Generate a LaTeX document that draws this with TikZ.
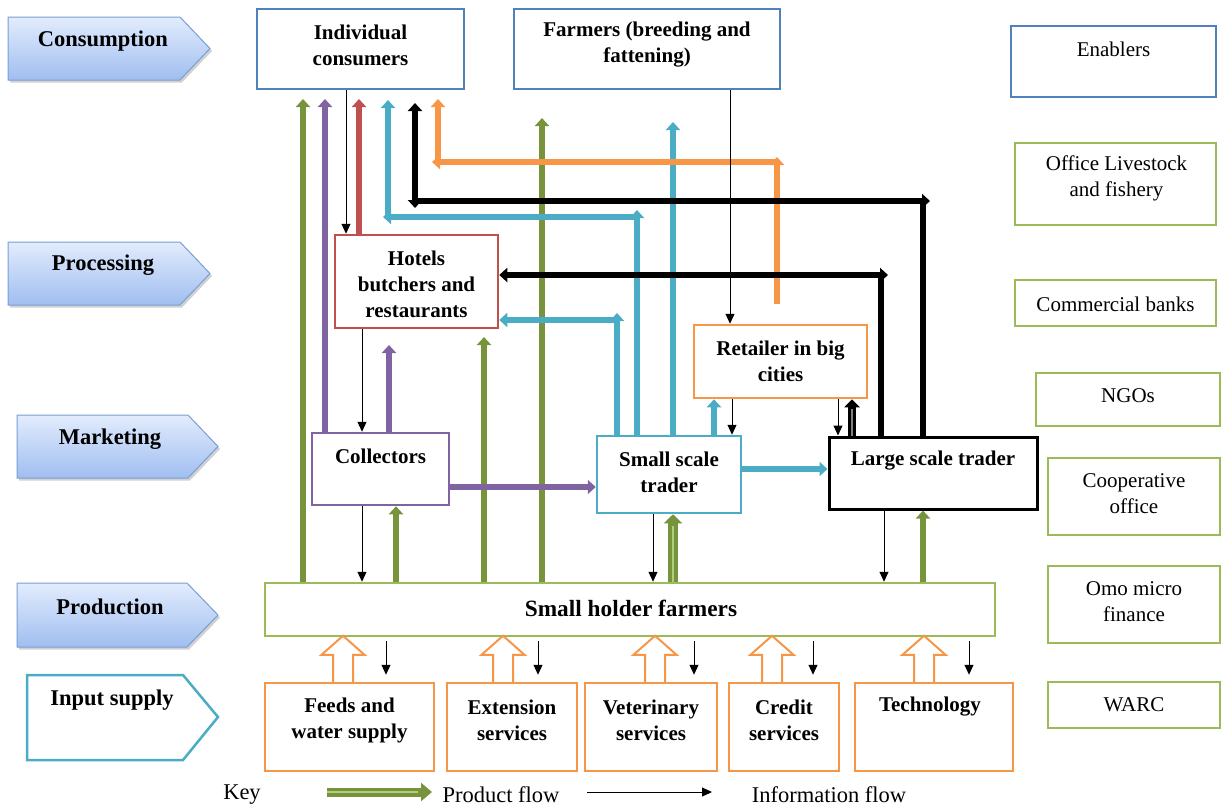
\documentclass[tikz,border=0pt]{standalone}
\usepackage{fontspec}
\setmainfont{Liberation Serif}
\usetikzlibrary{arrows.meta,calc}
\definecolor{cblue}{RGB}{79,129,189}
\definecolor{cgreen}{RGB}{155,187,89}
\definecolor{pgreen}{RGB}{119,147,60}
\definecolor{lgreen}{RGB}{178,204,128}
\definecolor{cpurple}{RGB}{128,100,162}
\definecolor{cred}{RGB}{192,80,77}
\definecolor{cteal}{RGB}{75,172,198}
\definecolor{corange}{RGB}{247,150,70}
\definecolor{stagetop}{RGB}{226,236,253}
\definecolor{stagebot}{RGB}{160,190,240}
\definecolor{stageline}{RGB}{120,158,212}
\begin{document}
\begin{tikzpicture}[x=1pt,y=-1pt,
  box/.style={draw=#1, line width=2.5pt, fill=white, inner sep=0pt},
  bt/.style={font=\fontsize{21}{26}\selectfont\bfseries, align=center, inner sep=0pt},
  rt/.style={font=\fontsize{21}{26}\selectfont, align=center, inner sep=0pt},
  st/.style={font=\fontsize{22.5}{27}\selectfont\bfseries, inner sep=0pt},
  kt/.style={font=\fontsize{22.5}{27}\selectfont, inner sep=0pt},
  stage/.style={draw=stageline, line width=1pt, top color=stagetop, bottom color=stagebot},
  stageshadow/.style={fill=black, opacity=0.18, draw=none},
  flow/.style={draw=#1, line width=6pt, -{Triangle[width=14pt,length=8pt]}},
  kseg/.style={draw=black, line width=6pt},
  kboth/.style={draw=black, line width=6pt, {Triangle[width=14pt,length=8pt]}-{Triangle[width=14pt,length=8pt]}},
  kend/.style={draw=black, line width=6pt, -{Triangle[width=14pt,length=8pt]}},
  infoarrow/.style={draw=black, line width=1pt, -{Triangle[width=9pt,length=10pt]}},
  blockup/.pic={\draw[draw=corange, line width=2pt, fill=white, line join=miter]
      (-10,0) -- (-10,-27) -- (-21.5,-27) -- (0,-46) -- (21.5,-27) -- (10,-27) -- (10,0);},
]
\useasboundingbox (0,0) rectangle (1222,807);

% ---------- stage arrows ----------
\path[stageshadow] (10,19.5) -- (182,19.5) -- (212,51) -- (182,82.5) -- (10,82.5) -- cycle;
\path[stage] (8,17) -- (180,17) -- (210,48.5) -- (180,80) -- (8,80) -- cycle;
\node[st] (sCons) at (103,41) {Consumption};
\path[stageshadow] (10,244.5) -- (182,244.5) -- (212,276) -- (182,307.5) -- (10,307.5) -- cycle;
\path[stage] (8,242) -- (180,242) -- (210,273.5) -- (180,305) -- (8,305) -- cycle;
\node[st] (sProc) at (103,265) {Processing};
\path[stageshadow] (19,417.5) -- (190,417.5) -- (220,449) -- (190,480.5) -- (19,480.5) -- cycle;
\path[stage] (17,415) -- (188,415) -- (218,446.5) -- (188,478) -- (17,478) -- cycle;
\node[st] (sMark) at (110,439) {Marketing};
\path[stageshadow] (19,585.5) -- (189,585.5) -- (220,617.5) -- (189,649.5) -- (19,649.5) -- cycle;
\path[stage] (17,583) -- (187,583) -- (218,615) -- (187,647) -- (17,647) -- cycle;
\node[st] (sProd) at (110,607) {Production};
\draw[draw=cteal, line width=2.5pt, fill=white] (27,675) -- (183,675) -- (218,717) -- (183,760) -- (27,760) -- cycle;
\node[st] (sInp) at (112,700) {Input supply};

% ---------- boxes ----------
\node[box=cblue, minimum width=207pt, minimum height=80pt] (ic) at (360.5,49) {};
\node[bt] at (360.5,45) {Individual\\consumers};
\node[box=cblue, minimum width=266pt, minimum height=80pt] (fm) at (647,49) {};
\node[bt] at (647,45) {Farmers (breeding and\\fattening)};
\node[box=cred, minimum width=163pt, minimum height=93pt] (hot) at (416.5,281.5) {};
\node[bt] at (416.5,284) {Hotels\\butchers and\\restaurants};
\node[box=cpurple, minimum width=137pt, minimum height=72pt] (col) at (380.5,469) {};
\node[bt] at (380.5,456) {Collectors};
\node[box=cteal, minimum width=144pt, minimum height=77pt] (sst) at (669,474.5) {};
\node[bt] at (669,472) {Small scale\\trader};
\node[box=corange, minimum width=173pt, minimum height=73pt] (ret) at (780.5,361.5) {};
\node[bt] at (780.5,361) {Retailer in big\\cities};
\node[box=black, line width=3pt, minimum width=208pt, minimum height=72pt] (lst) at (933,473) {};
\node[bt] at (933,461) {Large scale trader};
\node[box=cgreen, minimum width=730pt, minimum height=53pt] (shf) at (630,609.5) {};
\node[bt, font=\fontsize{23.3}{28}\selectfont\bfseries] at (631,608) {Small holder farmers};

\node[box=corange, minimum width=169pt, minimum height=88pt] (feed) at (349.5,727) {};
\node[bt] at (349.5,720) {Feeds and\\water supply};
\node[box=corange, minimum width=130pt, minimum height=88pt] (ext) at (512,727) {};
\node[bt] at (512,720) {Extension\\services};
\node[box=corange, minimum width=132pt, minimum height=88pt] (vet) at (651,727) {};
\node[bt] at (651,720) {Veterinary\\services};
\node[box=corange, minimum width=110pt, minimum height=88pt] (cred) at (784,727) {};
\node[bt] at (784,720) {Credit\\services};
\node[box=corange, minimum width=158pt, minimum height=88pt] (tech) at (934,727) {};
\node[bt] at (930,707) {Technology};

% ---------- enablers ----------
\node[box=cblue, minimum width=205pt, minimum height=71pt] (en) at (1113.5,61.5) {};
\node[rt] at (1113.5,49) {Enablers};
\node[box=cgreen, minimum width=201pt, minimum height=82pt] (olf) at (1115.5,184) {};
\node[rt] at (1116.5,178.5) {Office Livestock\\and fishery};
\node[box=cgreen, minimum width=201pt, minimum height=46pt] (cb) at (1115.5,303) {};
\node[rt] at (1115.5,304) {Commercial banks};
\node[box=cgreen, minimum width=184pt, minimum height=53pt] (ngo) at (1128,399.5) {};
\node[rt] at (1128,396) {NGOs};
\node[box=cgreen, minimum width=172pt, minimum height=77pt] (coop) at (1134,496.5) {};
\node[rt] at (1134,494) {Cooperative\\office};
\node[box=cgreen, minimum width=172pt, minimum height=77pt] (omo) at (1134,604.5) {};
\node[rt] at (1134,602) {Omo micro\\finance};
\node[box=cgreen, minimum width=172pt, minimum height=46pt] (warc) at (1134,705) {};
\node[rt] at (1134,705) {WARC};

% ---------- helper coordinates ----------
\coordinate (g1) at (303,99);
\coordinate (xg2) at (396,0);
\coordinate (g3) at (484,337);
\coordinate (g4) at (542,118);
\coordinate (xg5) at (673,0);
\coordinate (xg6) at (923,0);
\coordinate (p1) at (325,99);
\coordinate (p2) at (389,345);
\coordinate (yp3) at (0,487);
\coordinate (r1) at (359,99);
\coordinate (t1a) at (637,217);
\coordinate (t1b) at (388,217);
\coordinate (t1c) at (388,100);
\coordinate (t2a) at (617,320);
\coordinate (t3) at (673,122);
\coordinate (xt4) at (714,0);
\coordinate (yt5) at (0,469);
\coordinate (o1) at (777,162);
\coordinate (o2) at (438,162);
\coordinate (o3) at (438,99);
\coordinate (k1a) at (923,201);
\coordinate (k1b) at (415,201);
\coordinate (k1c) at (415,103);
\coordinate (k2a) at (881,275);
\coordinate (xk3) at (852,0);

% ---------- product flows: green ----------
\draw[flow=pgreen] (shf.north -| g1) -- (g1);
\draw[flow=pgreen] (shf.north -| xg2) -- (col.south -| xg2);
\draw[flow=pgreen] (shf.north -| g3) -- (g3);
\draw[flow=pgreen] (shf.north -| g4) -- (g4);
\draw[flow=pgreen, line width=10pt, -{Triangle[width=18pt,length=9pt]}] (shf.north -| xg5) -- (sst.south -| xg5);
\draw[lgreen, line width=2.5pt] (shf.north -| xg5) -- ($(sst.south -| xg5)+(0,12)$);
\draw[flow=pgreen] (shf.north -| xg6) -- (lst.south -| xg6);

% ---------- purple ----------
\draw[flow=cpurple] (col.north -| p1) -- (p1);
\draw[flow=cpurple] (col.north -| p2) -- (p2);
\draw[flow=cpurple] (col.east |- yp3) -- (sst.west |- yp3);

% ---------- red ----------
\draw[flow=cred] (hot.north -| r1) -- (r1);

% ---------- teal ----------
\draw[flow=cteal] (sst.north -| t1a) -- ($(t1a)+(0,-7)$);
\draw[flow=cteal] (t1a) -- ($(t1b)+(-5,0)$);
\draw[flow=cteal] (t1b) -- (t1c);
\draw[flow=cteal] (sst.north -| t2a) -- ($(t2a)+(0,-7)$);
\draw[flow=cteal] (t2a) -- (hot.east |- t2a);
\draw[flow=cteal] (sst.north -| t3) -- (t3);
\draw[flow=cteal] (sst.north -| xt4) -- (ret.south -| xt4);
\draw[flow=cteal] (sst.east |- yt5) -- (lst.west |- yt5);

% ---------- orange ----------
\draw[flow=corange] ($(ret.north -| o1)+(0,-20)$) -- ($(o1)+(0,-5)$);
\draw[flow=corange] (o1) -- ($(o2)+(-6,0)$);
\draw[flow=corange] (o2) -- (o3);

% ---------- black ----------
\draw[kseg] (lst.north -| k1a) -- (k1a);
\draw[kend] (k1b) -- ($(k1a)+(7,0)$);
\draw[kboth] ($(k1b)+(0,7)$) -- (k1c);
\draw[kseg] (lst.north -| k2a) -- (k2a);
\draw[kboth] ($(k2a)+(7,0)$) -- (hot.east |- k2a);
\draw[draw=black, line width=8pt, -{Triangle[width=15pt,length=8pt]}] (lst.north -| xk3) -- (ret.south -| xk3);
\draw[gray, line width=2pt] (lst.north -| xk3) -- ($(ret.south -| xk3)+(0,10)$);

% ---------- information flows ----------
\coordinate (xi1) at (346,0);
\coordinate (xi2) at (730,0);
\coordinate (xi3) at (362,0);
\coordinate (xi5) at (732,0);
\coordinate (xi6) at (838,0);
\coordinate (xi7) at (653,0);
\coordinate (xi8) at (884,0);
\draw[infoarrow] (ic.south -| xi1) -- (hot.north -| xi1);
\draw[infoarrow] (fm.south -| xi2) -- (ret.north -| xi2);
\draw[infoarrow] (hot.south -| xi3) -- (col.north -| xi3);
\draw[infoarrow] (col.south -| xi3) -- (shf.north -| xi3);
\draw[infoarrow] (ret.south -| xi5) -- (sst.north -| xi5);
\draw[infoarrow] (ret.south -| xi6) -- (lst.north -| xi6);
\draw[infoarrow] (sst.south -| xi7) -- (shf.north -| xi7);
\draw[infoarrow] (lst.south -| xi8) -- (shf.north -| xi8);

\coordinate (d1) at (386,0);
\coordinate (d2) at (538,0);
\coordinate (d3) at (694,0);
\coordinate (d4) at (813,0);
\coordinate (d5) at (969,0);
\draw[infoarrow] ($(shf.south -| d1)+(0,4)$) -- ($(feed.north -| d1)+(0,-7)$);
\draw[infoarrow] ($(shf.south -| d2)+(0,4)$) -- ($(ext.north -| d2)+(0,-7)$);
\draw[infoarrow] ($(shf.south -| d3)+(0,4)$) -- ($(vet.north -| d3)+(0,-7)$);
\draw[infoarrow] ($(shf.south -| d4)+(0,4)$) -- ($(cred.north -| d4)+(0,-7)$);
\draw[infoarrow] ($(shf.south -| d5)+(0,4)$) -- ($(tech.north -| d5)+(0,-7)$);

% ---------- input block arrows ----------
\coordinate (h1) at (343,0);
\coordinate (h2) at (503,0);
\coordinate (h3) at (655,0);
\coordinate (h4) at (772,0);
\coordinate (h5) at (924,0);
\pic at (feed.north -| h1) {blockup};
\pic at (ext.north -| h2) {blockup};
\pic at (vet.north -| h3) {blockup};
\pic at (cred.north -| h4) {blockup};
\pic at (tech.north -| h5) {blockup};

% ---------- key ----------
\node[kt] (key) at (242,795) {Key};
\coordinate (ka) at (327,792);
\coordinate (kb) at (432,792);
\draw[pgreen, line width=9pt, -{Triangle[width=18pt,length=11pt]}] (ka) -- (kb);
\draw[lgreen, line width=2.5pt] (ka) -- ($(kb)+(-14,0)$);
\node[kt] (kp) at (501,795) {Product flow};
\coordinate (kc) at (587,792);
\coordinate (kd) at (712,792);
\draw[infoarrow] (kc) -- (kd);
\node[kt] (ki) at (829,795) {Information flow};
\end{tikzpicture}
\end{document}
